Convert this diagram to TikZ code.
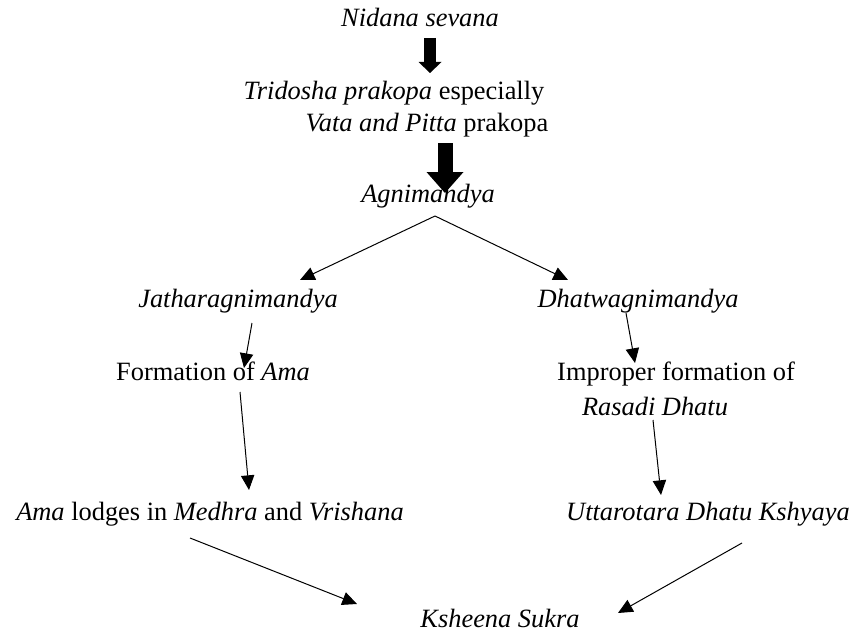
\documentclass[tikz,border=0pt]{standalone}
\usepackage{fontspec}
\setmainfont{Liberation Serif}
\usepackage{tikz}
\usetikzlibrary{arrows.meta}
\usetikzlibrary{calc}
\usetikzlibrary{positioning}

\begin{document}
\begin{tikzpicture}[x=0.75pt, y=-0.75pt,
  every node/.style={inner sep=0pt, anchor=base, font=\fontsize{19.8}{24}\selectfont},
  link/.style={line width=0.75pt, -{Triangle[length=11pt, width=10pt]}},
  fatlink/.style 2 args={-{Triangle[length=#1, width=#2, line width=0pt]}}]
\useasboundingbox (0,0) rectangle (853,635);

% top of the chain
\node (NidanaSevana) at (420,27) {\textit{Nidana sevana}};
\node (Tridosha) at (394,99) {\textit{Tridosha prakopa} especially};
\node (VataPitta) at (427,132) {\textit{Vata and Pitta} prakopa};
\node (Agnimandya) at (428,202) {\textit{Agnimandya}};

% two branches
\node (Jatharagni) at (238,307) {\textit{Jatharagnimandya}};
\node (Dhatwagni) at (638,307) {\textit{Dhatwagnimandya}};
\node (FormationAma) at (213,380) {Formation of \textit{Ama}};
\node (ImproperFormation) at (676,380) {Improper formation of};
\node (RasadiDhatu) at (655,415) {\textit{Rasadi Dhatu}};
\node (AmaLodges) at (210,520) {\textit{Ama} lodges in \textit{Medhra} and \textit{Vrishana}};
\node (Uttarotara) at (708,520) {\textit{Uttarotara Dhatu Kshyaya}};
\node (KsheenaSukra) at (500,627) {\textit{Ksheena Sukra}};

% block arrows
\draw[line width=9pt, fatlink={8.25pt}{17.25pt}] ($(NidanaSevana.base)+(10,11)$) -- ($(Tridosha.base)+(36,-26)$);
\draw[line width=11.25pt, fatlink={15.75pt}{27.75pt}] ($(VataPitta.base)+(18,11)$) -- ($(Agnimandya.base)+(17,-9)$);

% thin arrows
\draw[link] ($(Agnimandya.base)+(7,14)$) -- ($(Jatharagni.base)+(62,-27)$);
\draw[link] ($(Agnimandya.base)+(7,14)$) -- ($(Dhatwagni.base)+(-70,-27)$);
\draw[link] ($(Jatharagni.base)+(14,16)$) -- ($(FormationAma.base)+(31,-12)$);
\draw[link] ($(FormationAma.base)+(27,12)$) -- ($(AmaLodges.base)+(39,-30)$);
\draw[link] ($(Dhatwagni.base)+(-12,6)$) -- ($(ImproperFormation.base)+(-41,-17)$);
\draw[link] ($(RasadiDhatu.base)+(-2,5)$) -- ($(Uttarotara.base)+(-47,-25)$);
\draw[link] ($(AmaLodges.base)+(-20,18)$) -- ($(KsheenaSukra.base)+(-143,-23)$);
\draw[link] ($(Uttarotara.base)+(34,23)$) -- ($(KsheenaSukra.base)+(118,-14)$);
\end{tikzpicture}
\end{document}
